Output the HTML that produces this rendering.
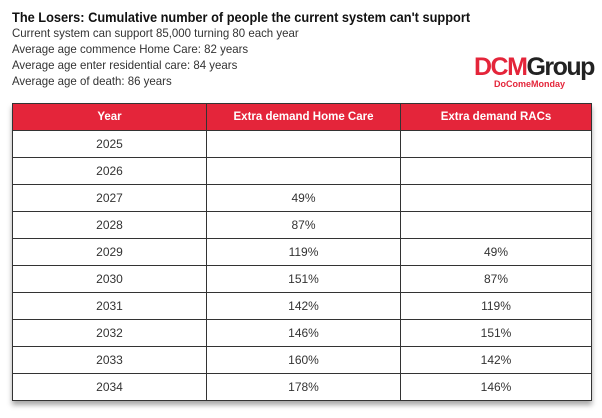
<!DOCTYPE html>
<html><head><style>
body{margin:0;width:602px;height:418px;background:#fff;font-family:"Liberation Sans",Arial,sans-serif;position:relative;overflow:hidden;color:#222}
.t{position:absolute;left:12px;top:9px;font-size:14px;font-weight:bold;color:#111;transform:scaleX(0.914);transform-origin:left;white-space:nowrap}
.l{position:absolute;left:12px;font-size:12px;color:#333;transform:scaleX(0.955);transform-origin:left;white-space:nowrap}
table{position:absolute;left:12px;top:103px;width:580px;border-collapse:collapse;box-shadow:0 4px 5px rgba(0,0,0,0.35);font-size:12px}
td,th{border:1px solid #333;text-align:center;padding:0;height:26px;color:#333}
th{background:#e4253a;color:#fff;font-weight:bold;font-size:11.5px;border-color:#333}
.logo{position:absolute;left:474px;top:55px;font-size:25px;font-weight:bold;letter-spacing:-1.5px;line-height:25px}
.sub{position:absolute;left:494px;top:79px;font-size:9px;font-weight:bold;color:#e4253a}
</style></head><body>
<div class="t">The Losers: Cumulative number of people the current system can't support</div>
<div class="l" style="top:26px">Current system can support 85,000 turning 80 each year</div>
<div class="l" style="top:42px">Average age commence Home Care: 82 years</div>
<div class="l" style="top:58px">Average age enter residential care: 84 years</div>
<div class="l" style="top:74px">Average age of death: 86 years</div>
<div class="logo"><span style="color:#e4253a">DCM</span><span style="color:#222">Group</span></div>
<div class="sub">DoComeMonday</div>
<table>
<tr><th style="width:193px">Year</th><th style="width:193px">Extra demand Home Care</th><th>Extra demand RACs</th></tr>
<tr><td>2025</td><td></td><td></td></tr>
<tr><td>2026</td><td></td><td></td></tr>
<tr><td>2027</td><td>49%</td><td></td></tr>
<tr><td>2028</td><td>87%</td><td></td></tr>
<tr><td>2029</td><td>119%</td><td>49%</td></tr>
<tr><td>2030</td><td>151%</td><td>87%</td></tr>
<tr><td>2031</td><td>142%</td><td>119%</td></tr>
<tr><td>2032</td><td>146%</td><td>151%</td></tr>
<tr><td>2033</td><td>160%</td><td>142%</td></tr>
<tr><td>2034</td><td>178%</td><td>146%</td></tr>
</table>
</body></html>
